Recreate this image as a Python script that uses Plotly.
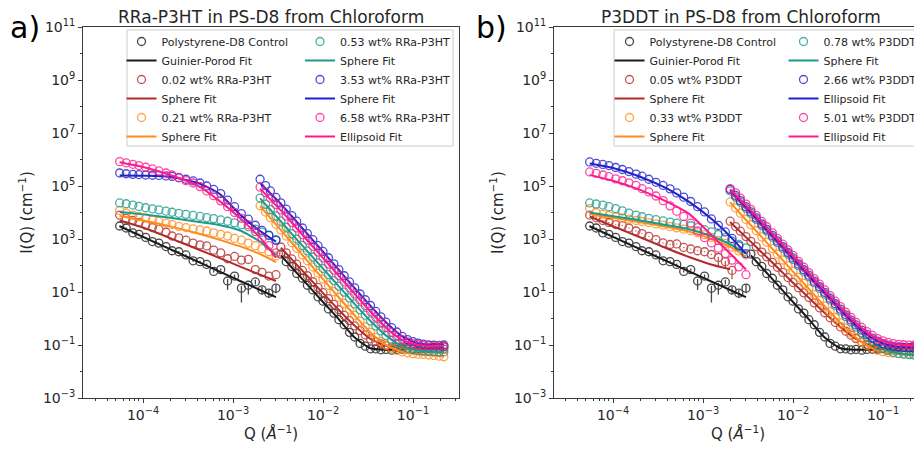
import plotly.graph_objects as go

# The page body has an 8 px margin, so the figure is sized to fit the 922x449 window exactly
PAGE_W, PAGE_H = 922, 449
OFF = 8
W, H = PAGE_W - OFF, PAGE_H - OFF

# ---------------- Q grids ----------------
q_usans = [5.5e-5, 6.5e-5, 7.7e-5, 9.0e-5, 1.07e-4, 1.27e-4, 1.5e-4, 1.8e-4, 2.1e-4, 2.5e-4,
           3.0e-4, 3.6e-4, 4.3e-4, 5.1e-4, 6.1e-4, 7.3e-4, 8.7e-4, 1.04e-3, 1.24e-3, 1.48e-3,
           1.77e-3, 2.1e-3, 2.5e-3, 3.0e-3]
q_usans_fit = [5.5e-5, 1.0e-4, 2.0e-4, 4.0e-4, 7.0e-4, 1.2e-3, 2.0e-3, 3.0e-3]
q_sans = [2.0e-3, 2.3e-3, 2.6e-3, 3.0e-3, 3.4e-3, 3.9e-3, 4.5e-3, 5.1e-3, 5.9e-3, 6.7e-3,
          7.7e-3, 8.8e-3, 0.010, 0.0115, 0.0132, 0.015, 0.0172, 0.0197, 0.0225, 0.0258,
          0.0295, 0.0337, 0.0386, 0.044, 0.050, 0.058, 0.066, 0.076, 0.087, 0.10,
          0.114, 0.13, 0.149, 0.17, 0.195, 0.22]
q_sans_fit = [2.0e-3, 3.4e-3, 4.5e-3, 6.7e-3, 0.010, 0.015, 0.0225, 0.0337, 0.050, 0.076, 0.114, 0.17, 0.22]

# ---------------- Control (shared by both panels) ----------------
ctrl_us = [3100, 2600, 1700, 1500, 1150, 800, 700, 520, 360, 330, 250, 150, 140, 110, 60, 70,
           26, 40, 14, 18, 24, 12, 9, 14]
ctrl_us_err_plus = [150, 130, 90, 80, 60, 45, 40, 30, 22, 20, 16, 11, 10, 9, 6, 7, 5, 6, 3, 4, 5, 4, 3, 5]
ctrl_us_err_minus = [150, 130, 90, 80, 60, 45, 40, 30, 22, 20, 16, 11, 10, 9, 6, 7, 14, 6, 10, 10, 5, 4, 3, 5]
ctrl_us_fit = [3020, 1200, 413, 142, 60, 26, 11.9, 6.4]
ctrl_sans = [None, None, None, None, 270, 140, 92, 50, 33, 18, 12, 6.5, 4.5, 2.3, 1.6, 0.9, 0.58,
             0.3, 0.2, 0.115, 0.09, 0.072, 0.071, 0.066, 0.068, 0.064, 0.068, 0.07, 0.07, 0.074,
             0.074, 0.078, 0.078, 0.081, 0.08, 0.085]
ctrl_sans_fit = [None, 240, 84, 19, 4.2, 0.93, 0.19, 0.075, 0.066, 0.068, 0.073, 0.078, 0.08]

# ---------------- Panel a: RRa-P3HT ----------------
a_red_us = [8000, 6000, 5000, 4200, 3300, 2700, 2300, 1800, 1300, 1100, 900, 700, 600, 550, 380,
            300, 180, 220, 160, 170, 70, 55, 40, 45]
a_red_us_fit = [5000, 2700, 1080, 420, 195, 91, 45, 26]
a_red_sans = [None, None, None, None, 500, 302, 177, 112, 65, 41, 24.4, 15, 9.4, 5.6, 3.4, 2.14,
              1.32, 0.83, 0.53, 0.35, 0.24, 0.17, 0.133, 0.109, 0.094, 0.085, 0.08, 0.077, 0.075,
              0.074, 0.073, 0.072, 0.072, 0.071, 0.07, 0.07]
a_red_sans_fit = [None, 470, 170, 40, 9.1, 2.1, 0.53, 0.17, 0.094, 0.077, 0.073, 0.071, 0.07]

a_org_us = [12000, 9500, 8000, 7000, 6200, 5200, 4600, 4000, 3500, 3000, 2700, 2400, 2200, 2000,
            1700, 1500, 1300, 1050, 900, 700, 560, 430, 330, 230]
a_org_us_fit = [7400, 5000, 3000, 1660, 950, 525, 270, 135]
a_org_sans = [1.8e4, 1.04e4, 6.4e3, 3.6e3, 2.2e3, 1.29e3, 733, 446, 251, 152, 88, 52, 31, 18, 10.4,
              6.3, 3.7, 2.19, 1.32, 0.79, 0.48, 0.3, 0.195, 0.135, 0.1, 0.075, 0.063, 0.055, 0.05,
              0.047, 0.045, 0.044, 0.042, 0.04, 0.038, 0.036]
a_org_sans_fit = [1.75e4, 2.15e3, 720, 150, 30.5, 6.2, 1.3, 0.3, 0.1, 0.055, 0.045, 0.041, 0.037]

a_teal_us = [22900, 21400, 19100, 17000, 15100, 13800, 12600, 11200, 10200, 9330, 8510, 7760, 7080,
             6460, 5890, 5250, 4680, 4070, 3470, 2880, 2340, 1820, 1350, 955]
a_teal_us_fit = [10500, 8500, 6300, 4470, 3390, 2090, 794, 251]
a_teal_sans = [3.5e4, 2.06e4, 1.29e4, 7.5e3, 4.7e3, 2.77e3, 1.6e3, 1.0e3, 573, 354, 209, 126, 77, 45,
               27, 16.7, 9.9, 6.0, 3.55, 2.15, 1.33, 0.82, 0.52, 0.34, 0.23, 0.15, 0.114, 0.09,
               0.076, 0.067, 0.062, 0.059, 0.057, 0.056, 0.055, 0.055]
a_teal_sans_fit = [3.4e4, 4.6e3, 1.57e3, 348, 76, 16.4, 3.5, 0.81, 0.23, 0.09, 0.062, 0.056, 0.055]

a_blue_us = [3.1e5, 2.9e5, 2.75e5, 2.7e5, 2.6e5, 2.55e5, 2.5e5, 2.4e5, 2.3e5, 2.05e5, 1.8e5, 1.55e5,
             1.3e5, 1.0e5, 7.4e4, 5.2e4, 2.95e4, 1.66e4, 9.1e3, 5.6e3, 3.3e3, 2.1e3, 1.4e3, 890]
a_blue_us_fit = [2.5e5, 2.45e5, 2.24e5, 1.32e5, 5.2e4, 8.3e3, 2.0e3, 790]
a_blue_sans = [1.8e5, 1.04e5, 6.5e4, 3.7e4, 2.3e4, 1.33e4, 7.6e3, 4.7e3, 2.6e3, 1.6e3, 940, 560, 340,
               196, 115, 70, 41, 24, 14.3, 8.4, 5.1, 3.1, 1.85, 1.15, 0.73, 0.45, 0.31, 0.21, 0.16,
               0.135, 0.118, 0.108, 0.10, 0.098, 0.097, 0.1]
a_blue_sans_fit = [1.3e5, 2.1e4, 7.2e3, 1.55e3, 330, 68, 14, 3.0, 0.72, 0.21, 0.115, 0.097, 0.097]

a_pink_us = [8.3e5, 7.4e5, 6.6e5, 5.9e5, 5.1e5, 4.4e5, 3.7e5, 3.1e5, 2.6e5, 2.1e5, 1.6e5, 1.3e5,
             9.5e4, 6.5e4, 4.3e4, 2.75e4, 1.66e4, 1.0e4, 6.0e3, 3.4e3, 1.9e3, 1.07e3, 560, 300]
a_pink_us_fit = [7.9e5, 5.2e5, 2.6e5, 1.05e5, 2.8e4, 6.0e3, 1.12e3, 200]
a_pink_sans = [9e4, 5.6e4, 3.5e4, 2.0e4, 1.25e4, 7.3e3, 4.2e3, 2.6e3, 1.45e3, 900, 530, 320, 195,
               113, 67, 41, 24, 14.2, 8.5, 5.0, 3.05, 1.85, 1.12, 0.7, 0.46, 0.3, 0.21, 0.16, 0.13,
               0.112, 0.102, 0.097, 0.094, 0.093, 0.092, 0.092]
a_pink_sans_fit = [8e4, 1.2e4, 4.1e3, 880, 190, 40, 8.3, 1.8, 0.45, 0.155, 0.1, 0.092, 0.091]

# ---------------- Panel b: P3DDT ----------------
b_red_us = [8000, 6300, 5000, 4200, 3500, 3200, 2600, 2000, 1600, 1260, 950, 710, 620, 650, 480,
            420, 360, 330, 260, 200, 140, 65, None, None]
b_red_us_err_plus = [300, 250, 200, 170, 140, 130, 100, 80, 65, 50, 40, 30, 25, 26, 20, 18, 16, 15,
                     14, 12, 9, 5, None, None]
b_red_us_err_minus = [300, 250, 200, 170, 140, 130, 100, 80, 65, 50, 40, 30, 25, 26, 20, 18, 16, 15,
                      14, 100, 60, 35, None, None]
b_red_us_fit = [7080, 3020, 1150, 437, 209, 112, 72, None]
b_red_sans = [4.7e3, 2.95e3, 1.97e3, 1.23e3, 815, 516, 322, 213, 131, 86, 55, 35, 23, 14.6, 9.3, 6.2,
              3.9, 2.53, 1.65, 1.07, 0.71, 0.48, 0.33, 0.234, 0.174, 0.13, 0.106, 0.089, 0.078,
              0.072, 0.068, 0.065, 0.063, 0.062, 0.061, 0.06]
b_red_sans_fit = [4.4e3, 780, 310, 84, 22.5, 6.0, 1.6, 0.47, 0.17, 0.088, 0.068, 0.062, 0.06]

b_org_us = [14100, 10000, 8500, 7600, 6900, 6300, 5600, 5000, 4570, 4170, 3720, 3310, 2950, 2630,
            2340, 2040, 1740, 1450, 1150, 890, 680, 500, 355, 250]
b_org_us_fit = [8900, 6300, 4270, 2820, 1900, 1050, 500, 214]
b_org_sans = [2.5e4, 1.49e4, 9.4e3, 5.5e3, 3.45e3, 2.05e3, 1.2e3, 750, 434, 270, 161, 97, 60, 35.5,
              21.2, 13.2, 7.9, 4.78, 2.93, 1.77, 1.09, 0.68, 0.43, 0.28, 0.19, 0.127, 0.096, 0.075,
              0.063, 0.056, 0.052, 0.049, 0.047, 0.046, 0.045, 0.045]
b_org_sans_fit = [2.4e4, 3.3e3, 1.17e3, 265, 59, 13, 2.9, 0.67, 0.19, 0.075, 0.052, 0.046, 0.045]

b_teal_us = [22900, 20900, 19100, 16600, 14100, 11500, 9550, 7940, 6920, 6030, 5370, 4790, 4370,
             3980, 3550, 3160, 2690, 2240, 1860, 1480, 1120, 830, 630, 460]
b_teal_us_fit = [10000, 7240, 5010, 3310, 2340, 1320, 630, 280]
b_teal_sans = [6.5e4, 3.85e4, 2.45e4, 1.45e4, 9.2e3, 5.5e3, 3.22e3, 2.03e3, 1.19e3, 742, 446, 272,
               169, 100, 60, 37.8, 22.4, 13.7, 8.4, 5.04, 3.12, 1.93, 1.18, 0.74, 0.474, 0.292,
               0.194, 0.133, 0.096, 0.074, 0.061, 0.053, 0.048, 0.045, 0.043, 0.042]
b_teal_sans_fit = [6.2e4, 8.8e3, 3.1e3, 720, 165, 37, 8.3, 1.9, 0.47, 0.13, 0.06, 0.045, 0.042]

b_blue_us = [8.1e5, 7.2e5, 6.5e5, 5.9e5, 5.0e5, 4.2e5, 3.5e5, 2.8e5, 2.35e5, 1.8e5, 1.38e5, 1.05e5,
             7.8e4, 5.5e4, 3.8e4, 2.6e4, 1.66e4, 1.05e4, 5.7e3, 3.26e3, 1.85e3, 1.05e3, 550, 280]
b_blue_us_fit = [7.1e5, 4.8e5, 2.24e5, 7.9e4, 2.5e4, 6.3e3, 1.26e3, 282]
b_blue_sans = [7.44e4, 4.4e4, 2.8e4, 1.66e4, 1.05e4, 6.28e3, 3.68e3, 2.32e3, 1.36e3, 848, 510, 310,
               193, 114, 69, 43, 25.7, 15.8, 9.7, 5.8, 3.6, 2.24, 1.38, 0.875, 0.57, 0.363, 0.251,
               0.181, 0.139, 0.113, 0.099, 0.089, 0.084, 0.08, 0.078, 0.077]
b_blue_sans_fit = [7e4, 1.0e4, 3.5e3, 810, 185, 41, 9.3, 2.15, 0.56, 0.18, 0.098, 0.08, 0.077]

b_pink_us = [3.4e5, 3.0e5, 2.6e5, 2.24e5, 1.86e5, 1.58e5, 1.32e5, 1.05e5, 7.9e4, 6.0e4, 4.2e4, 2.8e4,
             1.78e4, 1.12e4, 7.1e3, 4.0e3, 2.0e3, 1.12e3, 710, 450, 280, 160, 89, 45]
b_pink_us_fit = [2.63e5, 1.58e5, 7.1e4, 2.5e4, 8.9e3, 1.58e3, 282, 71]
b_pink_sans = [8.0e4, 5.5e4, 3.5e4, 2.07e4, 1.31e4, 7.85e3, 4.6e3, 2.9e3, 1.7e3, 1.06e3, 637, 388,
               241, 143, 86, 54, 32, 19.7, 12.1, 7.3, 4.5, 2.8, 1.72, 1.1, 0.72, 0.46, 0.32, 0.23,
               0.175, 0.143, 0.125, 0.113, 0.106, 0.102, 0.099, 0.098]
b_pink_sans_fit = [7.5e4, 1.2e4, 4.3e3, 1.0e3, 228, 51, 11.5, 2.65, 0.69, 0.22, 0.12, 0.1, 0.097]

# ---------------- Labels ----------------
a_names = ["Polystyrene-D8 Control", "0.02 wt% RRa-P3HT", "0.21 wt% RRa-P3HT",
           "0.53 wt% RRa-P3HT", "3.53 wt% RRa-P3HT", "6.58 wt% RRa-P3HT"]
a_fit_names = ["Guinier-Porod Fit", "Sphere Fit", "Sphere Fit", "Sphere Fit", "Sphere Fit", "Ellipsoid Fit"]
b_names = ["Polystyrene-D8 Control", "0.05 wt% P3DDT", "0.33 wt% P3DDT",
           "0.78 wt% P3DDT", "2.66 wt% P3DDT", "5.01 wt% P3DDT"]
b_fit_names = ["Guinier-Porod Fit", "Sphere Fit", "Sphere Fit", "Sphere Fit", "Ellipsoid Fit", "Ellipsoid Fit"]

x_tickvals = [1e-4, 1e-3, 1e-2, 1e-1]
x_ticktext = ["10<sup>\u22124</sup>", "10<sup>\u22123</sup>", "10<sup>\u22122</sup>", "10<sup>\u22121</sup>"]
y_tickvals = [1e-3, 1e-1, 1e1, 1e3, 1e5, 1e7, 1e9, 1e11]
y_ticktext = ["10<sup>\u22123</sup>", "10<sup>\u22121</sup>", "10<sup>1</sup>", "10<sup>3</sup>",
              "10<sup>5</sup>", "10<sup>7</sup>", "10<sup>9</sup>", "10<sup>11</sup>"]

COLORS = ["#1a1a1a", "#b22b2b", "#ff8c1a", "#1c9a8c", "#2020cc", "#ff1a8c"]
FONT = "DejaVu Sans"
TXT = "#262626"


def px_x(x):
    # window pixel -> paper fraction
    return (x - OFF) / W


def px_y(y):
    return 1 - (y - OFF) / H


def joined(a, b):
    return list(a) + [None] + list(b)


fig = go.Figure()


def add_series(xref, yref, legend, name, fit_name, color, us, us_fit, sans, sans_fit,
               err_plus=None, err_minus=None):
    err = None
    if err_plus is not None:
        pad = [0 for _ in q_sans]
        err = dict(type="data", symmetric=False, array=joined(err_plus, pad),
                   arrayminus=joined(err_minus, pad), width=0, thickness=1.3, color=color)
    fig.add_trace(go.Scatter(
        x=joined(q_usans, q_sans), y=joined(us, sans), mode="markers", name=name,
        xaxis=xref, yaxis=yref, legend=legend, opacity=0.8,
        marker=dict(symbol="circle-open", size=8, color=color, line=dict(width=1.3, color=color)),
        error_y=err))
    fig.add_trace(go.Scatter(
        x=joined(q_usans_fit, q_sans_fit), y=joined(us_fit, sans_fit), mode="lines", name=fit_name,
        xaxis=xref, yaxis=yref, legend=legend, connectgaps=False,
        line=dict(color=color, width=2, shape="spline", smoothing=0.6)))


panel_a = [
    (ctrl_us, ctrl_us_fit, ctrl_sans, ctrl_sans_fit, ctrl_us_err_plus, ctrl_us_err_minus),
    (a_red_us, a_red_us_fit, a_red_sans, a_red_sans_fit, None, None),
    (a_org_us, a_org_us_fit, a_org_sans, a_org_sans_fit, None, None),
    (a_teal_us, a_teal_us_fit, a_teal_sans, a_teal_sans_fit, None, None),
    (a_blue_us, a_blue_us_fit, a_blue_sans, a_blue_sans_fit, None, None),
    (a_pink_us, a_pink_us_fit, a_pink_sans, a_pink_sans_fit, None, None),
]
panel_b = [
    (ctrl_us, ctrl_us_fit, ctrl_sans, ctrl_sans_fit, ctrl_us_err_plus, ctrl_us_err_minus),
    (b_red_us, b_red_us_fit, b_red_sans, b_red_sans_fit, b_red_us_err_plus, b_red_us_err_minus),
    (b_org_us, b_org_us_fit, b_org_sans, b_org_sans_fit, None, None),
    (b_teal_us, b_teal_us_fit, b_teal_sans, b_teal_sans_fit, None, None),
    (b_blue_us, b_blue_us_fit, b_blue_sans, b_blue_sans_fit, None, None),
    (b_pink_us, b_pink_us_fit, b_pink_sans, b_pink_sans_fit, None, None),
]

for i, s in enumerate(panel_a):
    add_series("x", "y", "legend" if i < 3 else "legend2", a_names[i], a_fit_names[i], COLORS[i], *s)
for i, s in enumerate(panel_b):
    add_series("x2", "y2", "legend3" if i < 3 else "legend4", b_names[i], b_fit_names[i], COLORS[i], *s)

minor_x = [k * 10.0 ** e for e in range(-5, 0) for k in range(2, 10)]
minor_y = [10.0 ** e for e in range(-2, 11, 2)]

axis_style = dict(type="log", showgrid=False, zeroline=False, showline=True, linecolor="#3a3a3a",
                  linewidth=1, mirror=True, ticks="outside", ticklen=4, tickwidth=1, automargin=False,
                  tickcolor="#3a3a3a", tickfont=dict(family=FONT, size=14, color=TXT))
minor_x_style = dict(tickvals=minor_x, ticks="outside", ticklen=2, tickcolor="#3a3a3a")
minor_y_style = dict(tickvals=minor_y, ticks="outside", ticklen=2, tickcolor="#3a3a3a")
x_title = dict(text="Q (<i>\u00c5</i><sup>\u22121</sup>)", font=dict(family=FONT, size=15, color=TXT), standoff=4)
y_title = dict(text="I(Q) (cm<sup>\u22121</sup>)", font=dict(family=FONT, size=15, color=TXT), standoff=6)

y_dom = [px_y(398), px_y(27)]
xa = dict(axis_style, domain=[px_x(83), px_x(459)], range=[-4.667, -0.489], anchor="y",
          tickvals=x_tickvals, ticktext=x_ticktext, minor=minor_x_style, title=x_title)
xb = dict(axis_style, domain=[px_x(554), 1.0], range=[-4.656, -0.567], anchor="y2",
          tickvals=x_tickvals, ticktext=x_ticktext, minor=minor_x_style, title=x_title)
ya = dict(axis_style, domain=y_dom, range=[-3, 11], anchor="x", tickvals=y_tickvals,
          ticktext=y_ticktext, minor=minor_y_style, title=y_title)
yb = dict(axis_style, domain=y_dom, range=[-3, 11], anchor="x2", tickvals=y_tickvals,
          ticktext=y_ticktext, minor=minor_y_style, title=y_title)

leg_common = dict(orientation="v", xanchor="left", yanchor="top", bgcolor="rgba(0,0,0,0)",
                  borderwidth=0, font=dict(family=FONT, size=11, color=TXT), traceorder="normal")
LEG_TOP = 27

fig.update_layout(
    width=W, height=H, margin=dict(l=0, r=0, t=0, b=0, autoexpand=False),
    paper_bgcolor="white", plot_bgcolor="white",
    font=dict(family=FONT, color=TXT),
    xaxis=xa, yaxis=ya, xaxis2=xb, yaxis2=yb,
    legend=dict(leg_common, x=px_x(121.5), y=px_y(LEG_TOP)),
    legend2=dict(leg_common, x=px_x(300), y=px_y(LEG_TOP)),
    legend3=dict(leg_common, x=px_x(609.5), y=px_y(LEG_TOP)),
    legend4=dict(leg_common, x=px_x(783.5), y=px_y(LEG_TOP)),
    shapes=[
        dict(type="rect", xref="paper", yref="paper", x0=px_x(127), x1=px_x(453), y0=px_y(146), y1=px_y(30),
             line=dict(color="#cccccc", width=1), fillcolor="rgba(255,255,255,0.8)", layer="above"),
        dict(type="rect", xref="paper", yref="paper", x0=px_x(614), x1=px_x(925), y0=px_y(146), y1=px_y(30),
             line=dict(color="#cccccc", width=1), fillcolor="rgba(255,255,255,0.8)", layer="above"),
    ],
    annotations=[
        dict(text="RRa-P3HT in PS-D8 from Chloroform", xref="paper", yref="paper",
             x=px_x(271), y=px_y(17.5), xanchor="center", yanchor="middle", showarrow=False,
             font=dict(family=FONT, size=17, color=TXT)),
        dict(text="P3DDT in PS-D8 from Chloroform", xref="paper", yref="paper",
             x=px_x(741), y=px_y(17.5), xanchor="center", yanchor="middle", showarrow=False,
             font=dict(family=FONT, size=17, color=TXT)),
        dict(text="a)", xref="paper", yref="paper", x=0, y=px_y(8), xanchor="left",
             yanchor="top", showarrow=False, font=dict(family=FONT, size=30, color="#000000")),
        dict(text="b)", xref="paper", yref="paper", x=px_x(474), y=px_y(8), xanchor="left",
             yanchor="top", showarrow=False, font=dict(family=FONT, size=30, color="#000000")),
    ],
    showlegend=True,
)

fig.write_html("out.html")
